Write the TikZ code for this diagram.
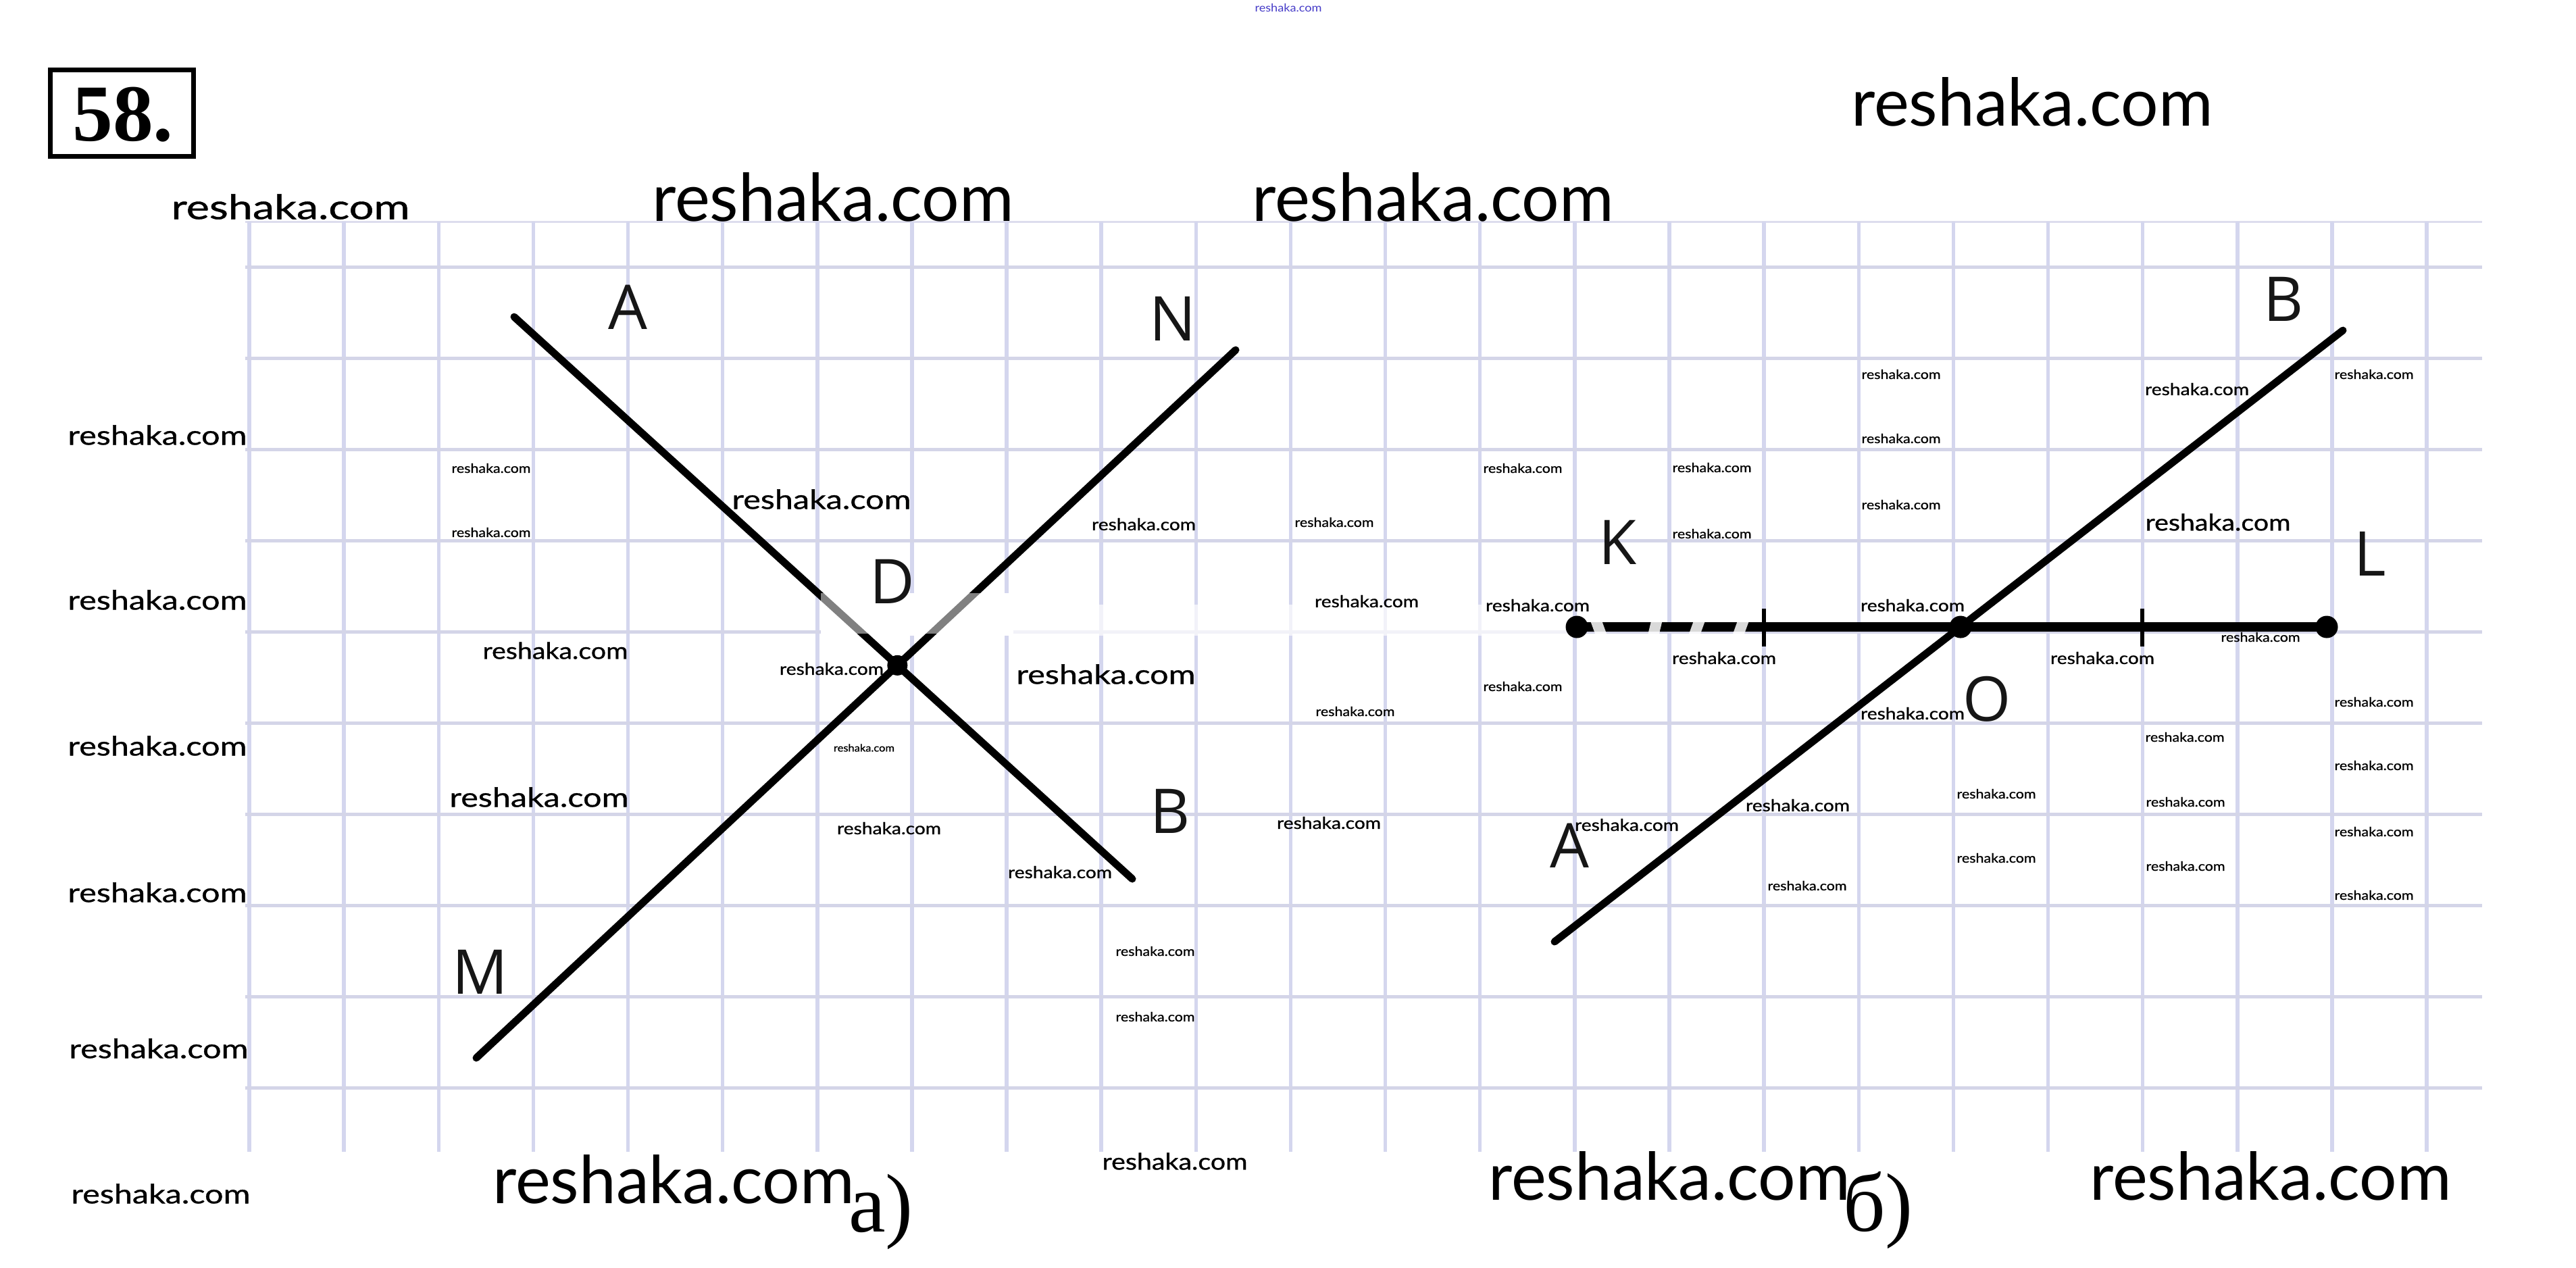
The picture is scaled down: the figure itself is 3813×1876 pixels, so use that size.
\documentclass[tikz,border=0pt]{standalone}
\usepackage{fontspec}
\usepackage{graphicx}
\setmainfont{Liberation Serif}
\newfontfamily\wmfont{Lato}
\newfontfamily\wmfontb{Lato}[FakeBold=0.8]
\newfontfamily\lblfont{Open Sans}
\definecolor{gridv}{RGB}{212,214,238}
\definecolor{gridh}{RGB}{212,213,232}
\definecolor{ink}{RGB}{22,22,22}
\definecolor{wmblue}{RGB}{70,60,200}
\newcommand{\wmk}[2]{\resizebox{#1}{#2}{\wmfont reshaka.com}}
\newcommand{\wms}[2]{\resizebox{#1}{#2}{\wmfontb reshaka.com}}
\tikzset{
  wm/.style={inner sep=0pt, outer sep=0pt, text=black},
  lbl/.style={inner sep=0pt, outer sep=0pt, text=ink, font=\lblfont\fontsize{26pt}{30pt}\selectfont},
  figline/.style={draw=black, line width=1.1mm, line cap=round},
  segline/.style={draw=black, line width=1.35mm},
  tickline/.style={draw=black, line width=0.55mm},
  vgrid/.style={draw=gridv, line width=0.55mm},
  hgrid/.style={draw=gridh, line width=0.5mm},
  pt/.style={circle, fill=black, inner sep=0pt, minimum size=3.3mm},
  serifcap/.style={inner sep=0pt, outer sep=0pt, anchor=base west, font=\fontsize{35pt}{40pt}\selectfont}
}
\begin{document}
\begin{tikzpicture}[x=0.1mm, y=-0.1mm]
\useasboundingbox (0,0) rectangle (3813,1876);
\fill[white] (0,0) rectangle (3813,1876);

% grid
\draw[draw=gridh!80, line width=0.3mm] (363,328) -- (3674,328);
\foreach \k in {0,...,23} \draw[vgrid] ({369+140.13*\k},328) -- ({369+140.13*\k},1705);
\foreach \j in {0,...,9} \draw[hgrid] (363,{395+135*\j}) -- (3674,{395+135*\j});

% erased grid band (under the figure lines)
\fill[white] (1215,878) rectangle (1500,941);
\fill[white, opacity=0.7] (1500,895) rectangle (2322,941);

% figure a)
\coordinate (aA) at (761,469);
\coordinate (aB) at (1676,1301);
\coordinate (aM) at (705,1566);
\coordinate (aN) at (1829,518);
\draw[figline] (aA) -- (aB);
\draw[figline] (aM) -- (aN);
\coordinate (aD) at (intersection of aA--aB and aM--aN);

% figure b)
\coordinate (bA) at (2301,1394);
\coordinate (bB) at (3468,489);
\coordinate (bK) at (2334,928);
\coordinate (bL) at (3444,928);
\coordinate (bO) at (intersection of bA--bB and bK--bL);
\coordinate (t1a) at (2611,901);
\coordinate (t1b) at (2611,957);
\coordinate (t2a) at (3171,901);
\coordinate (t2b) at (3171,957);
\draw[figline] (bA) -- (bB);
\draw[segline] (bK) -- (bL);
\draw[tickline] (t1a) -- (t1b);
\draw[tickline] (t2a) -- (t2b);

% faded parts of the lines
\fill[white, opacity=0.5] (1215,878) rectangle (1500,938);
\foreach \x/\s in {2366/6, 2450/-4, 2512/-6, 2577/-6}
  \draw[white, opacity=0.85, line width=1.6mm] ({\x-\s},912) -- ({\x+\s},945);

% points
\node[pt, minimum size=3.0mm] (D) at (aD) {};
\node[pt] (K) at (bK) {};
\node[pt] (L) at (bL) {};
\node[pt] (O) at (bO) {};

% labels a)
\node[lbl] (lA) at (929,455) {A};
\node[lbl] (lN) at (1736,472) {N};
\node[lbl] (lD) at (1321,861) {D};
\node[lbl] (lB) at (1732,1201) {B};
\node[lbl] (lM) at (711,1439) {M};
% labels b)
\node[lbl] (lK) at (2395,803) {K};
\node[lbl] (lL) at (3508,820) {L};
\node[lbl] (lO) at (2941,1035) {O};
\node[lbl] (lB2) at (3380,443) {B};
\node[lbl] (lA2) at (2323,1252) {A};

% captions
\node[serifcap] (capa) at (1256,1823) {а)};
\node[serifcap] (capb) at (2728,1822) {б)};

% title box
\node[draw=black, line width=0.75mm, inner sep=0pt, minimum width=21.2mm, minimum height=12.8mm] (box) at (180.5,167.5) {};
\node[inner sep=0pt, anchor=base, font=\bfseries\fontsize{34pt}{40pt}\selectfont] (num) at (182,208) {58.};

% watermarks
\node[wm, text=wmblue] (wtop) at (1907,12) {\wmk{9.9mm}{1.2mm}};
\foreach \x/\y [count=\i] in {3008/151, 1233/292, 2121/292, 997/1746, 2471/1741, 3361/1741}
  \node[wm] (wl\i) at (\x,\y) {\wmk{53.5mm}{7.2mm}};
\node[wm] (wmed) at (430,306) {\wms{35.3mm}{3.7mm}};
\foreach \x/\y [count=\i] in {233/644, 233/888, 233/1104, 233/1321, 235/1552, 238/1767, 1216/739, 1637/998, 798/1180}
  \node[wm] (wa\i) at (\x,\y) {\wms{26.5mm}{2.9mm}};
\foreach \x/\y [count=\i] in {822/963, 3283/773, 1739/1719}
  \node[wm] (wb\i) at (\x,\y) {\wms{21.5mm}{2.5mm}};
\foreach \x/\y [count=\i] in {1693/776, 2023/890, 1231/990, 1316/1226, 1569/1291, 1967/1218, 3252/576, 2276/896, 2831/896, 2552/974, 3112/974, 2831/1056, 2408/1221, 2661/1192}
  \node[wm] (wc\i) at (\x,\y) {\wms{15.4mm}{1.8mm}};
\foreach \x/\y [count=\i] in {727/693, 727/788, 1975/773, 2006/1053, 1710/1408, 1710/1505, 2254/693, 2534/692, 2534/790, 2814/554, 2814/649, 2814/747, 3514/554, 3346/943, 2254/1016, 3234/1091, 3514/1039, 3514/1133, 2955/1175, 3235/1187, 3514/1231, 2955/1270, 3235/1282, 3514/1325, 2675/1311}
  \node[wm] (wd\i) at (\x,\y) {\wms{11.7mm}{1.4mm}};
\node[wm] (we1) at (1279,1107) {\wms{9.0mm}{1.1mm}};
\end{tikzpicture}
\end{document}
